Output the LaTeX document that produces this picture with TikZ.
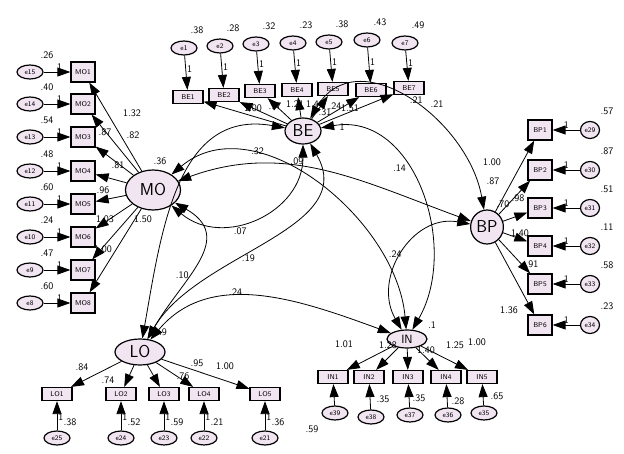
\documentclass[tikz,border=0pt]{standalone}
\usepackage{tikz}
\usetikzlibrary{arrows.meta,shapes.geometric}
\tikzset{obs/.style={draw,very thick,fill=violet!10,rectangle,minimum width=24pt,minimum height=20pt,inner sep=1pt,font=\sffamily\scriptsize},
  obsw/.style={obs,minimum height=13pt,minimum width=30pt},
  err/.style={draw,very thick,fill=violet!10,ellipse,minimum width=26pt,minimum height=14pt,inner sep=0pt,font=\sffamily\scriptsize},
  lat/.style={draw,very thick,fill=violet!10,ellipse,inner sep=1pt,font=\sffamily\LARGE},
  num/.style={font=\sffamily,inner sep=1pt},
  ld/.style={-{Triangle[length=13pt,width=9pt]},thick},
  cov/.style={{Triangle[length=13pt,width=9pt]}-{Triangle[length=13pt,width=9pt]},thick}}
\begin{document}
\begin{tikzpicture}[x=1pt,y=-1pt]
        \useasboundingbox (0,0) rectangle (624,454);

          %latent factors
          \node[lat,minimum width=55pt,minimum height=40pt] (MO) at (153,190) {MO};
          \node[lat,minimum width=36pt,minimum height=26pt] (BE) at (303,131) {BE};
          \node[lat,minimum width=26pt,minimum height=34pt] (BP) at (487,227) {BP};
          \node[lat,minimum width=50pt,minimum height=26pt] (LO) at (140,352) {LO};
          \node[lat,minimum width=40pt,minimum height=18pt,font=\sffamily\large] (IN) at (407,339) {IN};

          %MO indicators
          \foreach \i/\y/\e/\v in {1/72/15/.26,2/104/14/.40,3/137/13/.54,4/171/12/.48,5/204/11/.60,6/237/10/.24,7/270/9/.47,8/303/8/.60}{
            \node[obs] (MO\i) at (83,\y) {MO\i};
            \node[err] (e\e) at (30,\y) {e\e};
            \node[num] at (47,\y-17) {\v};
            \draw[ld] (e\e) -- node[num,above,pos=0.6] {1} (MO\i);
            \draw[ld] (MO) -- (MO\i);
          }
          \node[num] at (132,113) {1.32};
          \node[num] at (105,132) {.87};
          \node[num] at (133,135) {.82};
          \node[num] at (118,165) {.81};
          \node[num] at (103,190) {.96};
          \node[num] at (105,219) {1.03};
          \node[num] at (143,219) {1.50};
          \node[num] at (103,249) {1.00};
          \node[num] at (160,161) {.36};

          %BE indicators
          \foreach \i/\x/\y/\ey/\v in {1/188/97/48/.38,2/224/95/46/.28,3/260/91/44/.32,4/297/90/43/.23,5/333/89/42/.38,6/371/90/40/.43,7/409/88/43/.49}{
            \node[obsw] (BE\i) at (\x,\y) {BE\i};
            \node[err] (e\i) at (\x-4,\ey) {e\i};
            \node[num] at (\x+9,\ey-18) {\v};
            \draw[ld] (e\i) -- node[num,right,pos=0.4] {1} (BE\i);
            \draw[ld] (BE) -- (BE\i);
          }
          \node[num] at (253,108) {1.00};
          \node[num] at (275,106) {.97};
          \node[num] at (295,104) {1.21};
          \node[num] at (315,104) {1.40};
          \node[num] at (335,106) {.24};
          \node[num] at (350,108) {1.51};
          \node[num] at (325,112) {.31};
          \node[num] at (342,127) {1};
          \node[num] at (437,104) {.21};

          %BP indicators
          \foreach \i/\y/\e/\v in {1/130/29/.57,2/170/30/.87,3/208/31/.51,4/246/32/.11,5/284/33/.58,6/325/34/.23}{
            \node[obs] (BP\i) at (540,\y) {BP\i};
            \node[err,minimum width=19pt,minimum height=17pt] (e\e) at (590,\y) {e\e};
            \node[num] at (607,\y-19) {\v};
            \draw[ld] (e\e) -- node[num,above] {1} (BP\i);
            \draw[ld] (BP) -- (BP\i);
          }
          \node[num] at (492,162) {1.00};
          \node[num] at (493,181) {.87};
          \node[num] at (503,204) {.70};
          \node[num] at (518,198) {.98};
          \node[num] at (520,233) {1.40};
          \node[num] at (532,264) {.91};
          \node[num] at (509,310) {1.36};

          %LO indicators
          \foreach \i/\x/\e/\v in {1/57/25/.38,2/121/24/.52,3/164/23/.59,4/204/22/.21,5/265/21/.36}{
            \node[obsw] (LO\i) at (\x,394) {LO\i};
            \node[err] (e\e) at (\x,438) {e\e};
            \draw[ld] (e\e) -- node[num,right,pos=0.45] {1} (LO\i);
            \node[num] at (\x+13,422) {\v};
            \draw[ld] (LO) -- (LO\i);
          }
          \node[num] at (82,367) {.84};
          \node[num] at (108,380) {.74};
          \node[num] at (183,376) {.76};
          \node[num] at (197,363) {.95};
          \node[num] at (225,366) {1.00};
          \node[num] at (163,332) {.9};

          %IN indicators
          \foreach \i/\x/\ey/\e in {1/333/413/39,2/369/417/38,3/408/415/37,4/446/415/36,5/482/413/35}{
            \node[obsw] (IN\i) at (\x,377) {IN\i};
            \node[err] (e\e) at (\x+2,\ey) {e\e};
            \draw[ld] (e\e) -- (IN\i);
            \draw[ld] (IN) -- (IN\i);
          }
          \node[num] at (383,399) {.35};
          \node[num] at (419,398) {.35};
          \node[num] at (458,401) {.28};
          \node[num] at (497,396) {.65};
          \node[num] at (312,429) {.59};
          \node[num] at (344,344) {1.01};
          \node[num] at (388,345) {1.28};
          \node[num] at (426,350) {1.40};
          \node[num] at (455,345) {1.25};
          \node[num] at (477,342) {1.00};

          %covariances
          \draw[cov] (MO) to[out=-40,in=-90,looseness=1.2] node[num,pos=0.4,below=4pt] {.07} (BE);
          \draw[cov] (MO) to[out=40,in=95,looseness=1] node[num,pos=0.3,above] {.32} (IN);
          \draw[cov] (MO) to[out=20,in=160,looseness=1] node[num,pos=0.4,above] {.09} (BP);
          \draw[cov] (MO) to[out=-30,in=60,looseness=1.3] node[num,pos=0.6,left] {.10} (LO);
          \draw[cov] (BE) to[out=60,in=100,looseness=1.2] node[num,pos=0.5,right] {.21} (BP);
          \draw[cov] (BE) to[out=170,in=80,looseness=1.1] (LO);
          \draw[cov] (BE) to[out=-60,in=60,looseness=1] node[num,pos=0.6,right] {.19} (LO);
          \draw[cov] (BE) to[out=10,in=60,looseness=1.1] node[num,pos=0.4,left] {.14} (IN);
          \draw[cov] (LO) to[out=50,in=160,looseness=1] node[num,pos=0.4,above] {.24} (IN);
          \draw[cov] (BP) to[out=170,in=120,looseness=1.2] node[num,pos=0.5,left] {.24} (IN);
          \node[num] at (432,325) {.1};

        \end{tikzpicture}
\end{document}
